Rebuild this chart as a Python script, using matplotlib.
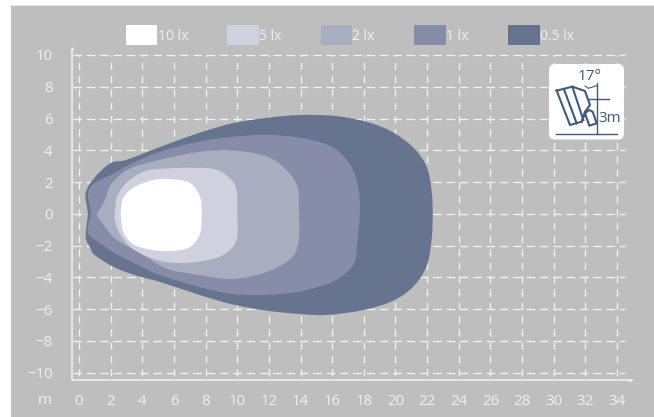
import numpy as np
import matplotlib
matplotlib.use('Agg')
import matplotlib.pyplot as plt
from matplotlib.path import Path
from matplotlib.patches import PathPatch, Rectangle, FancyBboxPatch

plt.rcParams['font.family'] = ['Open Sans', 'DejaVu Sans']

W, H = 654, 417

# tick labels
x_ticks = list(range(0, 35, 2))
y_ticks = list(range(-10, 11, 2))

# legend
levels = ['10 lx', '5 lx', '2 lx', '1 lx', '0.5 lx']
colors = ['#ffffff', '#cfd2de', '#a8aebf', '#878da8', '#67748f']

# isolux outlines, metres (x, y), going clockwise from the left
lx05 = [(0.55, 0), (0.42, 1.3), (1.0, 2.3), (2.0, 3.2), (3.0, 3.4), (5.1, 4.2), (7.6, 5.1), (9.7, 5.7),
        (11.9, 6.05), (13.9, 6.22), (15.7, 6.2), (17.0, 6.05), (18.5, 5.7), (19.9, 5.1), (21.2, 4.1), (22.0, 2.9),
        (22.3, 1.32), (22.35, 0), (22.3, -1.45), (22.0, -3.2), (21.2, -4.5), (19.9, -5.45), (18.0, -6.05),
        (15.7, -6.36), (13.9, -6.3), (11.9, -6.1), (9.7, -5.7), (7.6, -5.1), (5.1, -4.28), (3.9, -3.97),
        (2.3, -3.4), (1.0, -2.6), (0.7, -2.1), (0.42, -1.45)]
lx1 = [(0.74, 0), (0.57, 1.3), (1.0, 1.95), (2.0, 2.45), (3.4, 3.2), (5.1, 3.9), (7.6, 4.55), (9.7, 4.85),
       (11.9, 4.98), (13.9, 4.8), (15.7, 4.35), (16.75, 3.6), (17.4, 2.58), (17.7, 1.3), (17.75, 0), (17.6, -1.6),
       (17.4, -3.1), (16.5, -4.0), (15.6, -4.45), (13.9, -4.9), (11.9, -5.1), (9.7, -5.05), (7.6, -4.6),
       (5.1, -3.85), (3.9, -3.3), (2.3, -2.5), (1.55, -2.0), (0.57, -1.2)]
lx2 = [(1.15, 0), (1.64, 0.88), (2.0, 1.83), (2.8, 2.6), (3.6, 3.0), (5.1, 3.4), (7.6, 3.9), (9.7, 4.0), (11.9, 3.6),
       (13.1, 2.77), (13.8, 1.7), (13.9, 0.25), (13.9, -1.45), (13.5, -2.7), (11.9, -3.65), (9.7, -4.1),
       (7.6, -3.85), (5.55, -3.45), (3.9, -2.5), (2.4, -1.65), (1.75, -0.95), (1.2, -0.2)]
lx5 = [(2.27, 0.1), (2.4, 1.07), (3.0, 1.95), (4.05, 2.65), (5.1, 2.83), (7.2, 2.9), (8.7, 2.77), (9.75, 2.0),
       (10.0, 1.07), (10.0, 0.25), (10.0, -1.45), (9.55, -2.27), (8.5, -2.83), (6.6, -3.1), (4.9, -2.9),
       (3.4, -2.2), (2.6, -1.3), (2.27, -0.4)]
lx10 = [(2.65, 0.25), (2.8, 1.0), (3.4, 1.63), (4.5, 2.08), (5.55, 2.2), (7.0, 1.95), (7.65, 1.07), (7.75, 0.25),
        (7.75, -0.2), (7.65, -1.25), (7.0, -2.1), (5.75, -2.35), (4.5, -2.25), (3.4, -1.9), (2.8, -1.15),
        (2.65, -0.2)]
outlines = [lx10, lx5, lx2, lx1, lx05]


def smooth_path(points):
    # closed catmull-rom through the outline points, as bezier segments
    p = np.array(points, dtype=float)
    n = len(p)
    verts = [p[0]]
    codes = [Path.MOVETO]
    for i in range(n):
        p0, p1, p2, p3 = p[i - 1], p[i], p[(i + 1) % n], p[(i + 2) % n]
        verts += [p1 + (p2 - p0) / 6, p2 - (p3 - p1) / 6, p2]
        codes += [Path.CURVE4] * 3
    return Path(verts, codes)


fig = plt.figure(figsize=(W / 100, H / 100), dpi=100, facecolor='white')

# full-figure layer in pixel coordinates, for the panel behind the chart
back = fig.add_axes([0, 0, 1, 1], zorder=0)
back.set_xlim(0, W)
back.set_ylim(H, 0)
back.axis('off')
back.add_patch(Rectangle((11, 5), W - 11, H - 5, color='#bebebf', lw=0))
back.plot([11, W], [4.5, 4.5], color='#e6e6e6', lw=0.8)

# main axes, pinned to the pixel positions of x 0..34 and y -10..10
ax = fig.add_axes([79 / W, (H - 372.7) / H, 538 / W, 317.7 / H], zorder=1)
ax.set_xlim(0, 34)
ax.set_ylim(-10, 10)
ax.patch.set_visible(False)
for s in ax.spines.values():
    s.set_visible(False)

line_col = '#f1f1f1'
for x in x_ticks:
    ax.plot([x, x], [-10.2, 10], color=line_col, lw=0.95, dashes=(5.5, 4.6), clip_on=False, zorder=1)
for y in y_ticks:
    ax.plot([-0.35, 34.5], [y, y], color=line_col, lw=0.95, dashes=(6.5, 3.6), clip_on=False, zorder=1)

for pts, col in zip(outlines[::-1], colors[::-1]):
    ax.add_patch(PathPatch(smooth_path(pts), facecolor=col, edgecolor='none', zorder=2))

ax.set_xticks(x_ticks)
ax.set_yticks(y_ticks)
ax.tick_params(axis='both', length=0, labelcolor='#efefef', labelsize=10.8)
ax.tick_params(axis='x', pad=15.5)
ax.tick_params(axis='y', pad=19)

# overlay layer in pixel coordinates: axis lines, legend, lamp icon
top = fig.add_axes([0, 0, 1, 1], zorder=2)
top.set_xlim(0, W)
top.set_ylim(H, 0)
top.axis('off')

top.plot([72, 72, 629], [50, 380, 380], color='#f4f4f4', lw=1.1)
top.plot([631], [380], marker='>', ms=3, color='#f4f4f4', mew=0)
top.plot([72], [48], marker='^', ms=2.5, color='#f4f4f4', mew=0)
top.text(52, 400, 'm', color='#efefef', fontsize=10.8, ha='right', va='center')

legend_x = [125.5, 227, 320.5, 414, 508]
for lx, name, col in zip(legend_x, levels, colors):
    top.add_patch(Rectangle((lx, 25), 31.5, 20, color=col, lw=0))
    top.text(lx + 32, 36, name, color='#efefef', fontsize=10, ha='left', va='center')

# lamp icon
ink = '#3f5a7d'
top.add_patch(FancyBboxPatch((553, 68), 67, 67.5, boxstyle='round,pad=4,rounding_size=6', fc='white', ec='none'))


def ix(v):
    return 540 + v / 3


def iy(v):
    return 55 + v / 3


def icon_line(xs, ys, lw=1.5):
    top.plot([ix(v) for v in xs], [iy(v) for v in ys], color=ink, lw=lw, solid_joinstyle='round')


icon_line([50, 97, 135, 150, 135, 125, 90, 50], [107, 95, 108, 150, 170, 200, 210, 107])
icon_line([72, 110], [103, 205])
icon_line([97, 130], [95, 195])
icon_line([125, 135, 147, 158, 170, 148, 135], [200, 175, 165, 170, 205, 212, 175])
icon_line([170, 170], [85, 238], lw=1.0)
icon_line([145, 207], [133, 133], lw=1.0)
icon_line([48, 230], [238, 238], lw=1.0)
icon_line([135, 145, 170], [93, 100, 92], lw=0.8)
top.text(ix(148), iy(64), '17°', color=ink, fontsize=11, ha='center', va='center')
top.text(ix(210), iy(190), '3m', color=ink, fontsize=11, ha='center', va='center')

fig.savefig('out.png', dpi=100)
